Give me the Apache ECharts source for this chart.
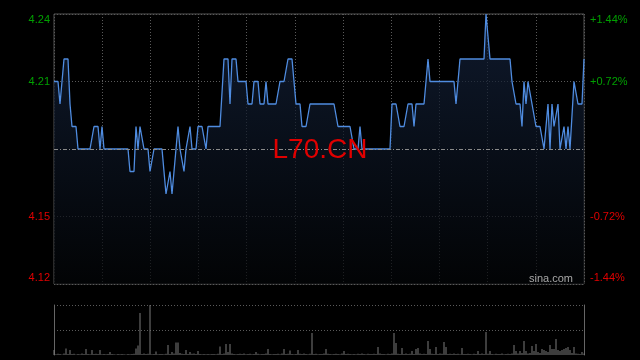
<!DOCTYPE html>
<html><head><meta charset="utf-8">
<script src="https://cdn.jsdelivr.net/npm/echarts@6/dist/echarts.min.js"></script>
<style>html,body{margin:0;padding:0;background:#000}#c{width:640px;height:360px}</style>
</head><body><div id="c"></div>
<script>
const symbolName = 'L70.CN';
const watermark = 'sina.com';
const prevClose = 4.18;
const priceMinCents = -6, priceMaxCents = 6, priceStepCents = 3;
const volMax = 500, volStep = 250;

const prices = [
4.21,4.21,4.21,4.20,4.20,4.22,4.22,4.22,4.20,4.19,
4.19,4.19,4.18,4.18,4.18,4.18,4.18,4.18,4.18,4.18,
4.19,4.19,4.19,4.18,4.19,4.18,4.18,4.18,4.18,4.18,
4.18,4.18,4.18,4.18,4.18,4.18,4.18,4.18,4.17,4.17,
4.17,4.19,4.18,4.19,4.19,4.18,4.18,4.18,4.17,4.17,
4.18,4.18,4.18,4.18,4.18,4.18,4.16,4.16,4.17,4.16,
4.16,4.18,4.19,4.18,4.18,4.17,4.18,4.18,4.19,4.18,
4.18,4.18,4.19,4.19,4.19,4.19,4.18,4.19,4.19,4.19,
4.19,4.19,4.19,4.19,4.19,4.22,4.22,4.22,4.20,4.22,
4.22,4.22,4.21,4.21,4.21,4.21,4.21,4.20,4.20,4.20,
4.21,4.21,4.21,4.20,4.20,4.20,4.21,4.20,4.20,4.20,
4.20,4.20,4.20,4.21,4.21,4.21,4.21,4.22,4.22,4.22,
4.22,4.20,4.20,4.20,4.19,4.19,4.19,4.19,4.20,4.20,
4.20,4.20,4.20,4.20,4.20,4.20,4.20,4.20,4.20,4.20,
4.20,4.20,4.19,4.19,4.19,4.19,4.19,4.19,4.19,4.19,
4.18,4.18,4.18,4.19,4.18,4.18,4.18,4.18,4.18,4.18,
4.18,4.18,4.18,4.18,4.18,4.18,4.18,4.18,4.18,4.20,
4.20,4.20,4.20,4.19,4.19,4.19,4.19,4.20,4.20,4.20,
4.19,4.20,4.20,4.20,4.20,4.20,4.20,4.22,4.21,4.21,
4.21,4.21,4.21,4.21,4.21,4.21,4.21,4.21,4.21,4.21,
4.21,4.20,4.20,4.22,4.22,4.22,4.22,4.22,4.22,4.22,
4.22,4.22,4.22,4.22,4.22,4.22,4.24,4.24,4.22,4.22,
4.22,4.22,4.22,4.22,4.22,4.22,4.22,4.22,4.22,4.21,
4.21,4.20,4.20,4.20,4.19,4.21,4.20,4.21,4.21,4.20,
4.20,4.19,4.19,4.19,4.19,4.18,4.19,4.20,4.18,4.20,
4.19,4.19,4.20,4.18,4.18,4.19,4.18,4.19,4.18,4.18,
4.21,4.21,4.20,4.20,4.20,4.22
];

const volumes = [
50,8,12,10,6,14,65,9,50,11,
12,6,10,8,14,9,60,10,8,50,
10,12,9,50,8,11,7,9,30,10,
8,6,9,7,10,8,6,9,7,10,
12,65,95,420,10,14,9,12,500,8,
10,35,8,11,9,7,12,100,10,30,
14,125,125,20,12,9,50,10,30,12,
14,10,40,10,8,9,7,10,8,9,
10,8,12,85,9,14,110,30,110,14,
10,8,9,12,10,14,8,10,12,8,
10,30,12,8,9,10,14,60,10,8,
9,10,12,8,14,60,10,12,45,9,
8,10,50,12,9,14,10,8,12,220,
10,12,8,9,10,14,60,12,10,8,
9,12,10,8,14,40,10,12,9,8,
10,8,12,9,14,10,8,12,10,9,
12,10,80,14,9,10,8,12,10,14,
220,120,12,10,70,9,14,10,12,40,
10,60,70,14,10,12,9,140,60,12,
10,80,9,14,12,130,80,10,12,9,
14,10,12,8,70,10,9,12,10,8,
12,10,40,9,14,10,230,12,40,10,
8,12,10,9,14,8,10,12,9,14,
100,40,14,40,20,140,40,14,20,90,
40,110,30,20,60,50,40,30,100,60,
60,160,50,40,50,60,70,80,50,20,
80,14,12,10,30,14
];

const idx = prices.map((_, i) => i);
const offsets = prices.map(p => Math.round((p - prevClose) * 100));

const GREEN = '#00a000', RED = '#e00000';
const FONT = '"Liberation Sans", Arial, sans-serif';
const gridColor = '#5a5a5a';

function leftFmt(v) {
  if (v === 0) return '';
  const s = (prevClose + v / 100).toFixed(2);
  if (v === priceMaxCents) return '{gt|' + s + '}';
  if (v === priceMinCents) return '{rb|' + s + '}';
  return v > 0 ? '{g|' + s + '}' : '{r|' + s + '}';
}
function rightFmt(v) {
  if (v === 0) return '';
  const s = (v > 0 ? '+' : '-') + (Math.abs(v) / (prevClose * 100) * 100).toFixed(2) + '%';
  if (v === priceMaxCents) return '{gt|' + s + '}';
  if (v === priceMinCents) return '{rb|' + s + '}';
  return v > 0 ? '{g|' + s + '}' : '{r|' + s + '}';
}
const rich = {
  g: {color: GREEN, fontSize: 11, fontFamily: FONT},
  r: {color: RED, fontSize: 11, fontFamily: FONT},
  gt: {color: GREEN, fontSize: 11, fontFamily: FONT, padding: [12, 0, 0, 0]},
  rb: {color: RED, fontSize: 11, fontFamily: FONT, padding: [0, 0, 12, 0]}
};

const chart = echarts.init(document.getElementById('c'), null, {renderer: 'canvas'});
chart.setOption({
  backgroundColor: '#000',
  animation: false,
  grid: [
    {left: 54, right: 56, top: 14, height: 270, show: true, borderColor: '#555', borderWidth: 1, backgroundColor: 'transparent'},
    {left: 54, right: 56, top: 305, height: 50}
  ],
  xAxis: [
    {type: 'category', gridIndex: 0, data: idx, boundaryGap: false, axisLine: {show: false}, axisTick: {show: false}, axisLabel: {show: false}, splitLine: {show: false}},
    {type: 'value', gridIndex: 0, min: 0, max: 11, interval: 1, position: 'top', axisLine: {show: false}, axisTick: {show: false}, axisLabel: {show: false},
      splitLine: {show: true, lineStyle: {color: gridColor, type: [1, 2], width: 1}}},
    {type: 'category', gridIndex: 1, data: idx, boundaryGap: false, axisLine: {show: false}, axisTick: {show: false}, axisLabel: {show: false}, splitLine: {show: false}}
  ],
  yAxis: [
    {type: 'value', gridIndex: 0, min: priceMinCents, max: priceMaxCents, interval: priceStepCents, position: 'left',
      axisLine: {show: false}, axisTick: {show: false},
      axisLabel: {formatter: leftFmt, rich: rich, margin: 4, fontSize: 11, fontFamily: FONT},
      splitLine: {show: true, lineStyle: {color: [gridColor, gridColor, 'rgba(0,0,0,0)', gridColor, gridColor], type: [1, 2], width: 1}}},
    {type: 'value', gridIndex: 0, min: priceMinCents, max: priceMaxCents, interval: priceStepCents, position: 'right',
      axisLine: {show: false}, axisTick: {show: false},
      axisLabel: {formatter: rightFmt, rich: rich, margin: 6, fontSize: 11, fontFamily: FONT},
      splitLine: {show: false}},
    {type: 'value', gridIndex: 1, min: 0, max: volMax, interval: volStep, position: 'left',
      axisLine: {show: true, lineStyle: {color: '#666'}}, axisTick: {show: false}, axisLabel: {show: false},
      splitLine: {show: true, lineStyle: {color: ['rgba(0,0,0,0)', gridColor, gridColor], type: [1, 2], width: 1}}},
    {type: 'value', gridIndex: 1, min: 0, max: volMax, interval: volStep, position: 'right',
      axisLine: {show: true, lineStyle: {color: '#666'}}, axisTick: {show: false}, axisLabel: {show: false}, splitLine: {show: false}}
  ],
  graphic: [
    {type: 'text', left: 'center', top: 136, z: 100, style: {text: symbolName, fill: '#e00000', font: '28px "Liberation Sans", Arial, sans-serif'}},
    {type: 'text', right: 67, top: 273, z: 100, style: {text: watermark, fill: '#a8a8a8', font: '11px "Liberation Sans", Arial, sans-serif'}}
  ],
  series: [
    {type: 'line', xAxisIndex: 0, yAxisIndex: 0, data: offsets, symbol: 'none', silent: true,
      lineStyle: {color: '#4f8ce0', width: 1.3},
      areaStyle: {origin: 'start', color: new echarts.graphic.LinearGradient(0, 0, 0, 1, [
        {offset: 0, color: '#15243f'}, {offset: 1, color: '#030507'}])},
      markLine: {silent: true, symbol: 'none', label: {show: false},
        lineStyle: {color: '#8a8a8a', type: [4, 2, 1, 2], width: 1},
        data: [{yAxis: 0}]}},
    {type: 'bar', xAxisIndex: 2, yAxisIndex: 2, data: volumes, barWidth: 1, silent: true,
      itemStyle: {color: '#7a7a7a'}}
  ]
});
</script>
</body></html>
